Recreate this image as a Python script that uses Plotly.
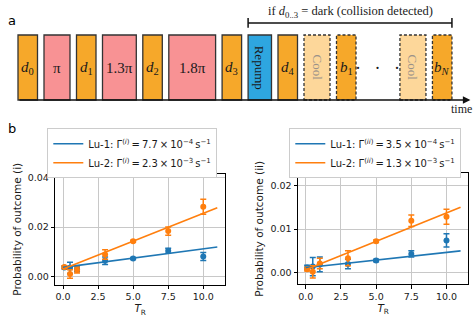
import plotly.graph_objects as go

# ---- panel a: pulse sequence (durations in units of a pi-pulse) ----
seq_labels = ["<i>d</i><sub>0</sub>", "π", "<i>d</i><sub>1</sub>", "1.3π", "<i>d</i><sub>2</sub>",
              "1.8π", "<i>d</i><sub>3</sub>", "Repump", "<i>d</i><sub>4</sub>", "Cool",
              "<i>b</i><sub>1</sub>", "Cool", "<i>b</i><sub><i>N</i></sub>"]
seq_dur = [0.75, 1.0, 0.75, 1.3, 0.75, 1.8, 0.75, 0.9, 0.75, 1.0, 0.75, 1.0, 0.75]
seq_kind = ["det", "pulse", "det", "pulse", "det", "pulse", "det", "repump", "det",
            "cool", "bright", "cool", "bright"]

# ---- panel b: data ----
t_r = [0.1, 0.5, 1.0, 3.0, 5.0, 7.5, 10.0]
fit_x = [0, 11]

p1_lu1 = [0.0037, 0.0036, 0.0030, 0.0065, 0.0074, 0.0105, 0.0082]
e1_lu1 = [0.0006, 0.0023, 0.0010, 0.0015, 0.0004, 0.0010, 0.0016]
p1_lu2 = [0.0039, 0.0011, 0.0027, 0.0090, 0.0143, 0.0184, 0.0282]
e1_lu2 = [0.0006, 0.0017, 0.0012, 0.0019, 0.0004, 0.0017, 0.0030]
fit1_lu1 = [0.0038, 0.0120]
fit1_lu2 = [0.0031, 0.0278]

p2_lu1 = [0.0012, 0.0014, 0.0019, 0.0020, 0.0028, 0.0043, 0.0074]
e2_lu1 = [0.0005, 0.0021, 0.0017, 0.0011, 0.0003, 0.0007, 0.0015]
p2_lu2 = [0.0008, 0.0002, 0.0021, 0.0033, 0.0072, 0.0119, 0.0128]
e2_lu2 = [0.0004, 0.0014, 0.0012, 0.0017, 0.0003, 0.0013, 0.0017]
fit2_lu1 = [0.00115, 0.0050]
fit2_lu2 = [0.0007, 0.0150]

ts = "\u2009"  # thin space, like mathtext spacing
leg1 = [f"Lu-1: Γ<sup>(<i>i</i>)</sup>{ts}={ts}7.7{ts}×{ts}10<sup>−4</sup>{ts}s<sup>−1</sup>",
        f"Lu-2: Γ<sup>(<i>i</i>)</sup>{ts}={ts}2.3{ts}×{ts}10<sup>−3</sup>{ts}s<sup>−1</sup>"]
leg2 = [f"Lu-1: Γ<sup>(<i>ii</i>)</sup>{ts}={ts}3.5{ts}×{ts}10<sup>−4</sup>{ts}s<sup>−1</sup>",
        f"Lu-2: Γ<sup>(<i>ii</i>)</sup>{ts}={ts}1.3{ts}×{ts}10<sup>−3</sup>{ts}s<sup>−1</sup>"]

BLUE, ORANGE = "#1f77b4", "#ff7f0e"
SANS = "DejaVu Sans"
SERIF = "Liberation Serif"

fig = go.Figure()

panels = [
    ("x", "y", "legend", p1_lu1, e1_lu1, p1_lu2, e1_lu2, fit1_lu1, fit1_lu2, leg1),
    ("x2", "y2", "legend2", p2_lu1, e2_lu1, p2_lu2, e2_lu2, fit2_lu1, fit2_lu2, leg2),
]
for xa, ya, lg, pa, ea, pb, eb, fa, fb, names in panels:
    for p, e, c in [(pa, ea, BLUE), (pb, eb, ORANGE)]:
        fig.add_trace(go.Scatter(
            x=t_r, y=p, mode="markers", xaxis=xa, yaxis=ya, showlegend=False,
            marker=dict(color=c, size=6),
            error_y=dict(type="data", array=e, color=c, thickness=1.5, width=3)))
    for f, c, n in [(fa, BLUE, names[0]), (fb, ORANGE, names[1])]:
        fig.add_trace(go.Scatter(
            x=fit_x, y=f, mode="lines", xaxis=xa, yaxis=ya, legend=lg, name=n,
            line=dict(color=c, width=1.6)))

# sequence boxes
fill = {"det": "#f6a82a", "pulse": "#f89294", "repump": "#2ea6e0",
        "cool": "#fdd79a", "bright": "#f6a82a"}
gap = 0.25
dots_gap = 1.69
shapes, annots = [], []
t = 0.0
starts = []
for i, (lab, d, k) in enumerate(zip(seq_labels, seq_dur, seq_kind)):
    if i > 0:
        t += dots_gap if i == 11 else gap
    starts.append(t)
    dashed = k in ("cool", "bright")
    shapes.append(dict(type="rect", xref="x3", yref="y3", x0=t, x1=t + d, y0=0, y1=1,
                       fillcolor=fill[k], layer="above",
                       line=dict(color="#333333", width=1.3,
                                 dash="3px,2px" if dashed else "solid")))
    rot = 90 if k in ("repump", "cool") else 0
    annots.append(dict(xref="x3", yref="y3", x=t + d / 2, y=0.5, text=lab,
                       showarrow=False, textangle=rot,
                       font=dict(family=SERIF, size=13 if rot else 15,
                                 color="#9a9189" if k == "cool" else "#1a1a1a")))
    t += d
t_end = t

# dots between b1 and the last cool block
annots.append(dict(xref="x3", yref="y3", x=(starts[10] + seq_dur[10] + starts[11]) / 2,
                   y=0.5, text="·   ·   ·", showarrow=False,
                   font=dict(family=SERIF, size=18, color="#1a1a1a")))

# time axis arrow
annots.append(dict(xref="x3", yref="y3", axref="x3", ayref="y3", x=17.4, y=0,
                   ax=0, ay=0, text="", showarrow=True, arrowhead=2, arrowsize=1,
                   arrowwidth=1.5, arrowcolor="#111111"))
annots.append(dict(xref="x3", yref="y3", x=17.05, y=-0.14, text="time", showarrow=False,
                   font=dict(family=SERIF, size=12, color="#1a1a1a")))

# bracket over the conditional part
b0, b1 = starts[7], t_end
for xx in (b0, b1):
    shapes.append(dict(type="line", xref="x3", yref="y3", x0=xx, x1=xx, y0=1.11, y1=1.26,
                       line=dict(color="#111111", width=1.5)))
shapes.append(dict(type="line", xref="x3", yref="y3", x0=b0, x1=b1, y0=1.185, y1=1.185,
                   line=dict(color="#111111", width=1.5)))
annots.append(dict(xref="x3", yref="y3", x=(b0 + b1) / 2, y=1.36,
                   text="if <i>d</i><sub>0..3</sub> = dark (collision detected)",
                   showarrow=False, font=dict(family=SERIF, size=12.5, color="#1a1a1a")))

# panel letters
annots.append(dict(xref="paper", yref="paper", x=12 / 476, y=1 - 20 / 324, text="a",
                   xanchor="center", yanchor="middle",
                   showarrow=False, font=dict(family=SANS, size=13, color="black")))
annots.append(dict(xref="paper", yref="paper", x=12 / 476, y=1 - 128 / 324, text="b",
                   xanchor="center", yanchor="middle",
                   showarrow=False, font=dict(family=SANS, size=13, color="black")))

ax_common = dict(showline=True, mirror=True, linecolor="black", linewidth=1,
                 ticks="outside", ticklen=3.5, tickwidth=1, tickcolor="black",
                 showgrid=True, gridcolor="#c8c8c8", gridwidth=1.2, zeroline=False,
                 automargin=False,
                 tickfont=dict(family=SANS, size=9.5, color="#1a1a1a"))
xcommon = dict(ax_common, range=[-0.55, 11.55], tick0=0, dtick=2.5, tickformat=".1f",
               title=dict(text="<i>T</i><sub>R</sub>", standoff=3,
                          font=dict(family=SANS, size=10.5, color="#1a1a1a")))

leg_common = dict(xanchor="left", yanchor="top", bgcolor="white", bordercolor="#cccccc",
                  borderwidth=1, tracegroupgap=0,
                  font=dict(family=SANS, size=10, color="#1a1a1a"))

fig.update_layout(
    width=476, height=324, margin=dict(l=0, r=0, t=0, b=0),
    plot_bgcolor="white", paper_bgcolor="white",
    xaxis=dict(xcommon, domain=[55.3 / 476, 225 / 476], anchor="y"),
    yaxis=dict(ax_common, domain=[1 - 284.5 / 324, 1 - 174 / 324], anchor="x",
               range=[-0.0031, 0.0414], dtick=0.02, tickformat=".2f",
               title=dict(text="Probability of outcome (i)", standoff=4,
                          font=dict(family=SANS, size=10.5, color="#1a1a1a"))),
    xaxis2=dict(xcommon, domain=[298 / 476, 468.3 / 476], anchor="y2"),
    yaxis2=dict(ax_common, domain=[1 - 284.3 / 324, 1 - 173.3 / 324], anchor="x2",
                range=[-0.00265, 0.02275], dtick=0.01, tickformat=".2f",
                title=dict(text="Probability of outcome (ii)", standoff=4,
                           font=dict(family=SANS, size=10.5, color="#1a1a1a"))),
    xaxis3=dict(domain=[0, 1], anchor="y3", range=[-18 / 26, 458 / 26], visible=False),
    yaxis3=dict(domain=[1 - 120 / 324, 1], anchor="x3", range=[-20 / 65, 100 / 65],
                visible=False),
    legend=dict(leg_common, x=47.3 / 476, y=1 - 128.3 / 324),
    legend2=dict(leg_common, x=289.3 / 476, y=1 - 128.3 / 324),
    shapes=shapes, annotations=annots,
)

# page body has a default 8px margin; drop it so the figure fills the window
fig.write_html("out.html", config={"displayModeBar": False},
               post_script="document.body.style.margin = '0';")
